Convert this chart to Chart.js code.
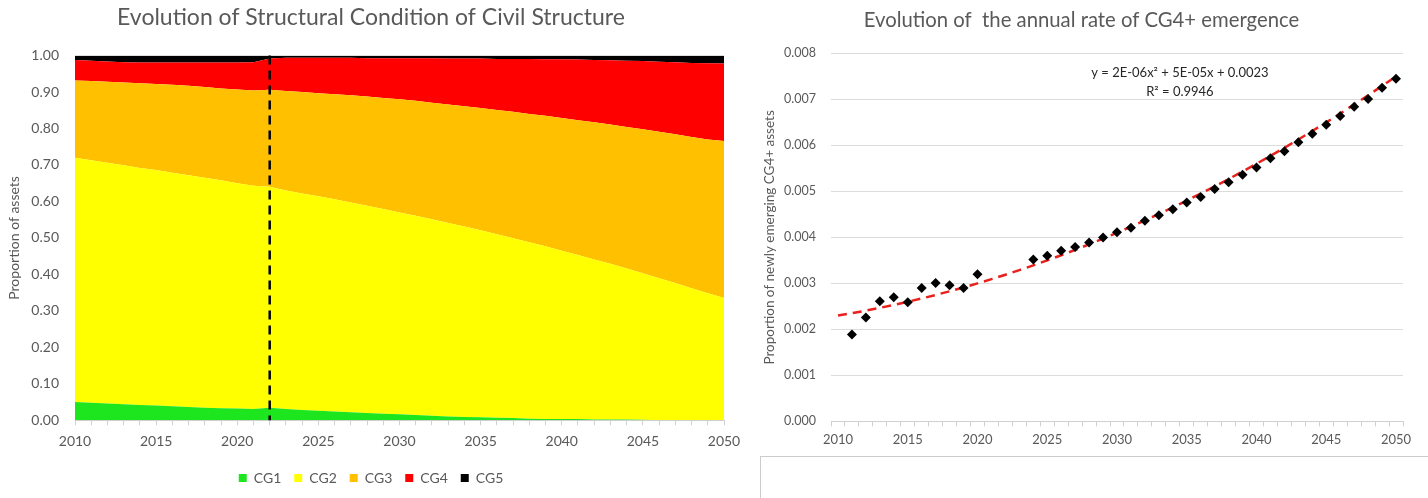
<!DOCTYPE html>
<html>
<head>
<meta charset="utf-8">
<title>Structural condition of civil structures</title>
<script src="https://cdn.jsdelivr.net/npm/chart.js@4.4.1/dist/chart.umd.min.js"></script>
<style>
  html, body { margin: 0; padding: 0; background: #ffffff; width: 1428px; height: 498px; overflow: hidden; }
  #conditionChart { position: absolute; left: 0; top: 0; }
  #emergenceChart { position: absolute; left: 760px; top: 0; }
  #lowerPanel { position: absolute; left: 760px; top: 456px; width: 700px; height: 60px;
                border-top: 1px solid #cccccc; border-left: 1px solid #cccccc; }
</style>
</head>
<body>
<canvas id="conditionChart" width="750" height="498"></canvas>
<canvas id="emergenceChart" width="668" height="456"></canvas>
<div id="lowerPanel"></div>
<script>
// ---- categories ----
const years = ['2010','2011','2012','2013','2014','2015','2016','2017','2018','2019',
               '2020','2021','2022','2023','2024','2025','2026','2027','2028','2029',
               '2030','2031','2032','2033','2034','2035','2036','2037','2038','2039',
               '2040','2041','2042','2043','2044','2045','2046','2047','2048','2049','2050'];

// ---- share of assets in each condition grade (2010 .. 2050) ----
const cg1 = [0.050,0.048,0.046,0.044,0.042,0.040,0.038,0.036,0.034,0.033,
             0.032,0.031,0.034,0.031,0.028,0.026,0.024,0.022,0.020,0.018,
             0.016,0.014,0.012,0.010,0.009,0.008,0.007,0.006,0.004,0.003,
             0.003,0.003,0.002,0.002,0.002,0.001,0.000,0.000,0.000,0.000,0.000];
const cg2 = [0.670,0.665,0.660,0.655,0.650,0.646,0.641,0.636,0.631,0.625,
             0.618,0.612,0.606,0.599,0.594,0.588,0.582,0.575,0.568,0.561,
             0.554,0.547,0.539,0.531,0.522,0.513,0.503,0.493,0.484,0.474,
             0.462,0.450,0.439,0.427,0.414,0.402,0.389,0.376,0.362,0.348,0.335];
const cg3 = [0.212,0.217,0.222,0.227,0.232,0.236,0.241,0.245,0.249,0.252,
             0.257,0.261,0.266,0.273,0.278,0.283,0.288,0.294,0.300,0.305,
             0.310,0.315,0.320,0.325,0.330,0.335,0.341,0.347,0.352,0.358,
             0.364,0.370,0.376,0.382,0.388,0.395,0.402,0.408,0.415,0.422,0.431];
const cg4 = [0.056,0.056,0.056,0.056,0.057,0.059,0.061,0.064,0.067,0.071,
             0.074,0.078,0.086,0.091,0.094,0.097,0.100,0.103,0.105,0.109,
             0.113,0.117,0.122,0.126,0.131,0.136,0.140,0.145,0.151,0.155,
             0.161,0.166,0.171,0.176,0.182,0.187,0.192,0.198,0.203,0.209,0.212];
const cg5 = [0.012,0.014,0.016,0.018,0.019,0.019,0.019,0.019,0.019,0.019,
             0.019,0.018,0.008,0.006,0.006,0.006,0.006,0.006,0.007,0.007,
             0.007,0.007,0.007,0.008,0.008,0.008,0.009,0.009,0.009,0.010,
             0.010,0.011,0.012,0.013,0.014,0.015,0.017,0.018,0.020,0.021,0.022];
const gradeNames = ['CG1','CG2','CG3','CG4','CG5'];
const forecastStartYear = '2022';

// ---- annual rate of newly emerging CG4+ assets (null = no observation) ----
const emergenceRate = [null,0.00189,0.00226,0.00261,0.00270,0.00259,0.00290,0.00301,0.00296,0.00290,
                       0.00320,null,null,null,0.00352,0.00360,0.00371,0.00379,0.00389,0.00400,
                       0.00411,0.00421,0.00436,0.00448,0.00461,0.00476,0.00488,0.00505,0.00520,0.00536,
                       0.00552,0.00572,0.00587,0.00607,0.00625,0.00645,0.00664,0.00684,0.00701,0.00725,0.00745];
// polynomial trend as printed on the chart: y = a x^2 + b x + c, x = years since 2010
const trendCoefficients = [2e-6, 5e-5, 0.0023];
const trendLabel = ['y = 2E-06x\u00B2 + 5E-05x + 0.0023', 'R\u00B2 = 0.9946'];

const trendValues = years.map(y => {
  const x = Number(y) - Number(years[0]);
  return trendCoefficients[0] * x * x + trendCoefficients[1] * x + trendCoefficients[2];
});

// ---- shared styling ----
const GREY = '#595959';
const AXIS_GREY = '#d0d0d0';
const FAMILY = 'Lato, "Open Sans", sans-serif';
const TICK_FONT = { family: FAMILY, size: 14 };
const gradeColors = ['#1ee61e', '#ffff00', '#ffc000', '#ff0000', '#000000'];

const fiveYearLabel = function (value) {
  const y = this.getLabelForValue(value);
  return Number(y) % 5 === 0 ? y : '';
};

// vertical dashed marker at the start of the forecast period
const forecastLine = {
  id: 'forecastLine',
  afterDatasetsDraw(chart) {
    const { ctx, chartArea, scales } = chart;
    const x = scales.x.getPixelForValue(years.indexOf(forecastStartYear));
    ctx.save();
    ctx.beginPath();
    ctx.setLineDash([9, 6]);
    ctx.lineWidth = 2.5;
    ctx.strokeStyle = '#000000';
    ctx.moveTo(x, chartArea.top);
    ctx.lineTo(x, chartArea.bottom);
    ctx.stroke();
    ctx.restore();
  }
};

const gradeSeries = [cg1, cg2, cg3, cg4, cg5];

new Chart(document.getElementById('conditionChart'), {
  type: 'line',
  data: {
    labels: years,
    datasets: gradeSeries.map((values, i) => ({
      label: gradeNames[i],
      data: values,
      backgroundColor: gradeColors[i],
      borderColor: gradeColors[i],
      borderWidth: 0,
      pointRadius: 0,
      fill: i === 0 ? 'origin' : '-1',
      tension: 0
    }))
  },
  options: {
    responsive: false,
    animation: false,
    devicePixelRatio: 1,
    layout: { padding: { left: 18, right: 26, top: 4, bottom: 3 } },
    plugins: {
      title: { display: true, text: 'Evolution of Structural Condition of Civil Structure',
               color: GREY, font: { family: FAMILY, size: 23, weight: 'normal' },
               padding: { top: 0, bottom: 24 } },
      legend: { position: 'bottom',
                labels: { color: GREY, font: TICK_FONT, boxWidth: 8, boxHeight: 8, padding: 13 } },
      tooltip: { enabled: false }
    },
    scales: {
      x: {
        type: 'category',
        offset: false,
        grid: { drawOnChartArea: false, drawTicks: true, tickLength: 5, color: AXIS_GREY },
        border: { display: true, color: AXIS_GREY },
        ticks: { autoSkip: false, maxRotation: 0, color: GREY, font: TICK_FONT, padding: 8,
                 callback: fiveYearLabel }
      },
      y: {
        stacked: true,
        min: 0, max: 1,
        afterFit: scale => { scale.width = 57; },
        grid: { display: false, drawTicks: false },
        border: { display: false },
        ticks: { stepSize: 0.1, color: GREY, font: TICK_FONT, padding: 16,
                 callback: v => Number(v).toFixed(2) },
        title: { display: true, text: 'Proportion of assets', color: GREY, font: TICK_FONT,
                 padding: { top: -12, bottom: 0 } }
      }
    }
  },
  plugins: [forecastLine]
});

// fitted trend equation written inside the plot
const trendText = {
  id: 'trendText',
  afterDraw(chart) {
    const { ctx, chartArea } = chart;
    const cx = chartArea.left + 0.61 * (chartArea.right - chartArea.left);
    ctx.save();
    ctx.fillStyle = '#262626';
    ctx.font = '13px ' + FAMILY;
    ctx.textAlign = 'center';
    ctx.textBaseline = 'middle';
    ctx.fillText(trendLabel[0], cx, chartArea.top + 19);
    ctx.fillText(trendLabel[1], cx, chartArea.top + 38);
    ctx.restore();
  }
};

new Chart(document.getElementById('emergenceChart'), {
  type: 'line',
  data: {
    labels: years,
    datasets: [
      {
        label: 'Emergence rate',
        data: emergenceRate,
        showLine: false,
        pointStyle: 'rectRot',
        pointRadius: 5,
        pointBackgroundColor: '#000000',
        pointBorderColor: '#000000',
        pointBorderWidth: 0,
        order: 0
      },
      {
        label: 'Poly. trend',
        data: trendValues,
        borderColor: '#e8211c',
        borderWidth: 2.5,
        borderDash: [9, 6],
        pointRadius: 0,
        fill: false,
        tension: 0,
        order: 1
      }
    ]
  },
  options: {
    responsive: false,
    animation: false,
    devicePixelRatio: 1,
    layout: { padding: { left: 0, right: 25, top: 4, bottom: 2 } },
    plugins: {
      title: { display: true, text: 'Evolution of  the annual rate of CG4+ emergence',
               color: GREY, font: { family: FAMILY, size: 20.3, weight: 'normal' },
               padding: { top: 4, bottom: 21 } },
      legend: { display: false },
      tooltip: { enabled: false }
    },
    scales: {
      x: {
        type: 'category',
        offset: true,
        grid: { offset: true, drawOnChartArea: false, drawTicks: true, tickLength: 5, color: AXIS_GREY },
        border: { display: true, color: AXIS_GREY },
        ticks: { autoSkip: false, maxRotation: 0, color: GREY, font: { family: FAMILY, size: 13 }, padding: 6,
                 callback: fiveYearLabel }
      },
      y: {
        min: 0, max: 0.008,
        afterFit: scale => { scale.width = 71; },
        grid: { color: '#dcdcdc', drawTicks: false },
        border: { display: false },
        ticks: { stepSize: 0.001, color: GREY, font: { family: FAMILY, size: 12.5 }, padding: 15,
                 callback: v => Number(v).toFixed(3) },
        title: { display: true, text: 'Proportion of newly emerging CG4+ assets', color: GREY,
                 font: { family: FAMILY, size: 13.5 }, padding: { top: 2, bottom: 0 } }
      }
    }
  },
  plugins: [trendText]
});
</script>
</body>
</html>
